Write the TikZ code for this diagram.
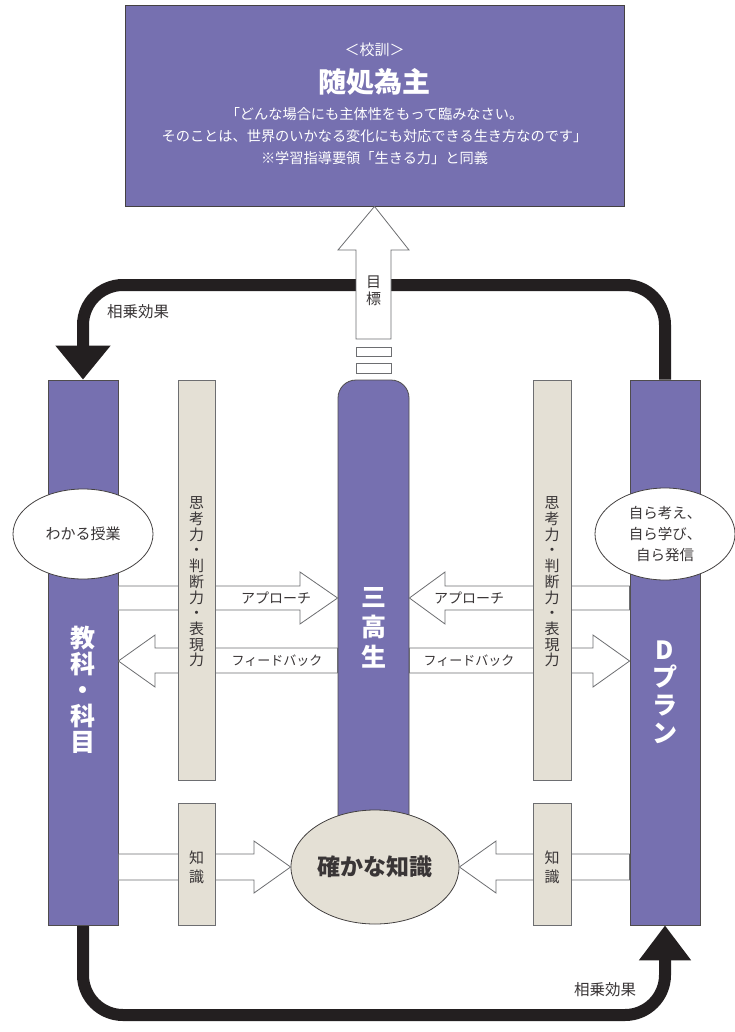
\documentclass[tikz,border=0pt]{standalone}
\usepackage{fontspec}
\setmainfont{Noto Sans CJK JP}
\usetikzlibrary{arrows.meta,shapes.geometric,backgrounds}
\definecolor{plum}{HTML}{7670B0}
\definecolor{sand}{HTML}{E4E0D5}
\definecolor{ink}{HTML}{231F20}
\definecolor{edge}{HTML}{6D6E71}
\tikzset{
 pbar/.style={draw=ink!80, line width=0.8pt, fill=plum, inner sep=0pt},
 sbar/.style={draw=edge, line width=0.8pt, fill=sand, inner sep=0pt},
 barlabel/.style={align=center, inner sep=0pt, font=\fontsize{15}{15.7}\selectfont, text=ink!90},
 bigwhite/.style={align=center, inner sep=0pt, text=white, font=\bfseries\fontsize{25}{26}\selectfont},
 hollow/.style={draw=edge, line width=0.8pt, fill=white},
 loopline/.style={draw=ink, line width=12pt, rounded corners=40pt},
 lbl/.style={inner sep=0pt, text=ink!90, font=\fontsize{14}{14}\selectfont},
 oval/.style={ellipse, draw=ink!85, line width=0.8pt, inner sep=0pt},
}
\begin{document}
\begin{tikzpicture}[x=1pt,y=-1pt]
\useasboundingbox (0,0) rectangle (735,1032);
% columns
\node[pbar, minimum width=70pt, minimum height=545pt] (kyoka) at (83,652.5) {};
\node[pbar, minimum width=70pt, minimum height=545pt] (dplan) at (665,652.5) {};
\node[pbar, rounded corners=18pt, minimum width=71pt, minimum height=470pt] (sanko) at (373.5,615) {};
% synergy loops
\begin{scope}[on background layer]
\draw[loopline, -{Triangle[width=53pt,length=34pt]}] (dplan.north) -- (665,285) -- (83,285) -- (kyoka.north);
\draw[loopline, -{Triangle[width=50pt,length=35pt]}] (kyoka.south) -- (83,1015) -- (665,1015) -- (dplan.south);
\end{scope}
\node[lbl, font=\fontsize{15.5}{15.5}\selectfont] (syn1) at (138,312) {相乗効果};
\node[lbl, font=\fontsize{15.5}{15.5}\selectfont] (syn2) at (605,990) {相乗効果};
% block arrows: approach / feedback
\draw[hollow] (kyoka.east |- 0,586) -- (300,586) -- (300,572) -- (sanko.west |- 0,598) -- (300,624) -- (300,610) -- (kyoka.east |- 0,610) -- cycle;
\draw[hollow] (sanko.west |- 0,648) -- (155,648) -- (155,635) -- (kyoka.east |- 0,661) -- (155,687) -- (155,673) -- (sanko.west |- 0,673) -- cycle;
\draw[hollow] (dplan.west |- 0,586) -- (445,586) -- (445,572) -- (sanko.east |- 0,598) -- (445,624) -- (445,610) -- (dplan.west |- 0,610) -- cycle;
\draw[hollow] (sanko.east |- 0,648) -- (593,648) -- (593,635) -- (dplan.west |- 0,661) -- (593,687) -- (593,673) -- (sanko.east |- 0,673) -- cycle;
% knowledge ellipse
\node[oval, fill=sand, minimum width=168pt, minimum height=114pt, font=\bfseries\fontsize{23}{23}\selectfont, text=ink!90] (chishiki) at (375,867) {確かな知識};
\draw[hollow] (kyoka.east |- 0,854) -- (254,854) -- (254,841) -- (chishiki.west) -- (254,893) -- (254,880) -- (kyoka.east |- 0,880) -- cycle;
\draw[hollow] (dplan.west |- 0,854) -- (496,854) -- (496,841) -- (chishiki.east) -- (496,893) -- (496,880) -- (dplan.west |- 0,880) -- cycle;
% arrow labels
\node[lbl] (ap1) at (276,598) {アプローチ};
\node[lbl, font=\fontsize{13}{13}\selectfont] (fb1) at (277,661) {フィードバック};
\node[lbl] (ap2) at (469,598) {アプローチ};
\node[lbl, font=\fontsize{13}{13}\selectfont] (fb2) at (469,661) {フィードバック};
% beige bars
\node[sbar, minimum width=37pt, minimum height=400pt] (shikoL) at (196.5,580) {};
\node[sbar, minimum width=38pt, minimum height=400pt] (shikoR) at (552,580) {};
\node[sbar, minimum width=37pt, minimum height=122pt] (chiL) at (196.5,864) {};
\node[sbar, minimum width=38pt, minimum height=122pt] (chiR) at (552,864) {};
\node[barlabel] (shikoLt) at (196.5,582) {思\\考\\力\\・\\判\\断\\力\\・\\表\\現\\力};
\node[barlabel] (shikoRt) at (552,582) {思\\考\\力\\・\\判\\断\\力\\・\\表\\現\\力};
\node[barlabel, font=\fontsize{15}{19}\selectfont] (chiLt) at (196.5,867) {知\\識};
\node[barlabel, font=\fontsize{15}{19}\selectfont] (chiRt) at (552,867) {知\\識};
% column labels
\node[bigwhite] (kyokaT) at (83,690) {教\\科\\・\\科\\目};
\node[bigwhite, font=\bfseries\fontsize{25}{30}\selectfont] (sankoT) at (373.5,628) {三\\高\\生};
\node[bigwhite, font=\bfseries\fontsize{25}{27.7}\selectfont] (dplanT) at (665,692) {D\\プ\\ラ\\ン};
% ovals on columns
\node[oval, fill=white, minimum width=140pt, minimum height=90pt, font=\fontsize{15}{15}\selectfont, text=ink!90] (wakaru) at (83,534) {わかる授業};
\node[oval, fill=white, minimum width=140pt, minimum height=92pt, align=center, font=\fontsize{14.5}{21}\selectfont, text=ink!90] (mizukara) at (665,534) {自ら考え、\\自ら学び、\\自ら発信};
% top box
\node[draw=ink!85, line width=0.8pt, fill=plum, minimum width=499pt, minimum height=201pt, inner sep=0pt] (kokun) at (374.5,105.5) {};
\node[inner sep=0pt, text=white, font=\fontsize{15}{15}\selectfont] (kokunT) at (374.5,50) {＜校訓＞};
\node[inner sep=0pt, text=white, font=\bfseries\fontsize{28}{28}\selectfont] (motto) at (374.5,82) {随処為主};
\node[inner sep=0pt, text=white, align=center, font=\fontsize{14.2}{22}\selectfont] (desc) at (374.5,136) {「どんな場合にも主体性をもって臨みなさい。\\そのことは、世界のいかなる変化にも対応できる生き方なのです」\\※学習指導要領「生きる力」と同義};
% goal arrow
\draw[hollow] (356,339) -- (356,250) -- (338,250) -- (kokun.south) -- (409,250) -- (391,250) -- (391,339) -- cycle;
\node[lbl, align=center, font=\fontsize{15}{17}\selectfont] (goal) at (373.5,291) {目\\標};
\node[hollow, draw=edge, minimum width=35pt, minimum height=9pt, inner sep=0pt] (bar1) at (373.5,351.5) {};
\node[hollow, draw=edge, minimum width=35pt, minimum height=10pt, inner sep=0pt] (bar2) at (373.5,368) {};
\end{tikzpicture}
\end{document}
